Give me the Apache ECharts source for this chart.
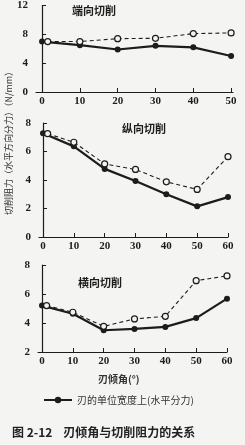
<!DOCTYPE html>
<html lang="zh">
<head>
    <meta charset="UTF-8">
    <title>刃倾角与切削阻力的关系</title>
    <script type="text/javascript" src="https://cdn.jsdelivr.net/npm/echarts@6/dist/echarts.min.js"></script>
    <style>
        html, body { margin: 0; padding: 0; background: #f4f4f2; }
    </style>
</head>
<body>
<div id="chart" style="width:245px;height:445px;"></div>
<script type="text/javascript">
    var chart = echarts.init(document.getElementById('chart'));

    // 刃倾角 (°)
    var angles1 = [0, 10, 20, 30, 40, 50];
    var angles2 = [0, 10, 20, 30, 40, 50, 60];
    var angles1Open = [1.5, 10, 20, 30, 40, 50];
    var angles2Open = [1.5, 10, 20, 30, 40, 50, 60];

    // 端向切削
    var endSolid = [7.0, 6.5, 5.9, 6.4, 6.2, 5.0];
    var endOpen = [7.0, 7.0, 7.4, 7.45, 8.1, 8.2];
    // 纵向切削
    var longSolid = [7.28, 6.36, 4.78, 3.93, 3.0, 2.15, 2.8];
    var longOpen = [7.25, 6.65, 5.13, 4.74, 3.87, 3.34, 5.64];
    // 横向切削
    var crossSolid = [5.2, 4.64, 3.5, 3.59, 3.73, 4.34, 5.68];
    var crossOpen = [5.2, 4.74, 3.77, 4.28, 4.46, 6.92, 7.25];

    var ticks1 = [0, 10, 20, 30, 40, 50];
    var ticks2 = [0, 10, 20, 30, 40, 50, 60];

    var panelTitles = ['端向切削', '纵向切削', '横向切削'];
    var legendName = '刃的单位宽度上(水平分力)';

    function pairs(xs, ys) {
        return xs.map(function (x, i) { return [x, ys[i]]; });
    }

    var ink = '#1c1c1c';
    var numFont = 'Liberation Serif';

    function xAxisOf(idx, min, max, ticks) {
        return {
            type: 'value', gridIndex: idx, min: min, max: max,
            splitLine: { show: false },
            axisLine: { lineStyle: { color: ink, width: 1.2 } },
            axisTick: { inside: true, length: 4, customValues: ticks, lineStyle: { color: ink } },
            axisLabel: { customValues: ticks, color: ink, fontSize: 11, fontFamily: numFont, fontWeight: 'bold', margin: 4 }
        };
    }

    function yAxisOf(idx, min, max, step) {
        return {
            type: 'value', gridIndex: idx, min: min, max: max, interval: step,
            splitLine: { show: false },
            axisLine: { show: true, lineStyle: { color: ink, width: 1.2 } },
            axisTick: { show: true, inside: true, length: 4, lineStyle: { color: ink } },
            axisLabel: { color: ink, fontSize: 11, fontFamily: numFont, fontWeight: 'bold', margin: 8 }
        };
    }

    function solidSeries(name, idx, data) {
        return {
            name: name, type: 'line', xAxisIndex: idx, yAxisIndex: idx,
            data: data, symbol: 'circle', symbolSize: 6,
            itemStyle: { color: ink },
            lineStyle: { color: ink, width: 2.2 },
            z: 3
        };
    }

    function openSeries(idx, data) {
        return {
            type: 'line', xAxisIndex: idx, yAxisIndex: idx,
            data: data, symbol: 'circle', symbolSize: 6,
            itemStyle: { color: '#f4f4f2', borderColor: ink, borderWidth: 1.2 },
            lineStyle: { color: ink, width: 1.1, type: [4, 3] },
            z: 4
        };
    }

    var option = {
        backgroundColor: '#f4f4f2',
        animation: false,
        grid: [
            { left: 36, right: 12, top: 5, height: 87 },
            { left: 39, right: 17, top: 123, height: 114 },
            { left: 38, right: 18, top: 265, height: 87 }
        ],
        xAxis: [
            xAxisOf(0, -1.6, 50.5, ticks1),
            xAxisOf(1, -1.3, 60, ticks2),
            xAxisOf(2, -1.3, 60, ticks2)
        ],
        yAxis: [
            yAxisOf(0, 0, 12, 4),
            yAxisOf(1, 0, 8, 2),
            yAxisOf(2, 2, 8, 2)
        ],
        legend: {
            data: [legendName],
            left: 38, top: 390,
            itemWidth: 28, itemHeight: 8,
            textStyle: { color: '#333', fontSize: 10, fontFamily: 'Noto Sans CJK SC' }
        },
        graphic: [
            { type: 'text', left: 72, top: 5, style: { text: panelTitles[0], fill: ink, font: 'bold 11px "Noto Sans CJK SC"' } },
            { type: 'text', left: 122, top: 123, style: { text: panelTitles[1], fill: ink, font: 'bold 11px "Noto Sans CJK SC"' } },
            { type: 'text', left: 78, top: 277, style: { text: panelTitles[2], fill: ink, font: 'bold 11px "Noto Sans CJK SC"' } },
            {
                type: 'text', x: 9, y: 141, rotation: Math.PI / 2,
                style: {
                    text: '切削阻力（水平方向分力）（N/mm）', fill: '#333',
                    font: '9px "Noto Sans CJK SC"', align: 'center', verticalAlign: 'middle'
                }
            },
            { type: 'text', left: 98, top: 374, style: { text: '刃倾角(°)', fill: '#333', font: 'bold 10px "Noto Sans CJK SC"' } },
            { type: 'text', left: 12, top: 426, style: { text: '图 2-12    刃倾角与切削阻力的关系', fill: '#222', font: 'bold 12px "Noto Sans CJK SC"' } }
        ],
        series: [
            solidSeries(legendName, 0, pairs(angles1, endSolid)),
            openSeries(0, pairs(angles1Open, endOpen)),
            solidSeries(legendName, 1, pairs(angles2, longSolid)),
            openSeries(1, pairs(angles2Open, longOpen)),
            solidSeries(legendName, 2, pairs(angles2, crossSolid)),
            openSeries(2, pairs(angles2Open, crossOpen))
        ]
    };
    chart.setOption(option);
</script>
</body>
</html>
